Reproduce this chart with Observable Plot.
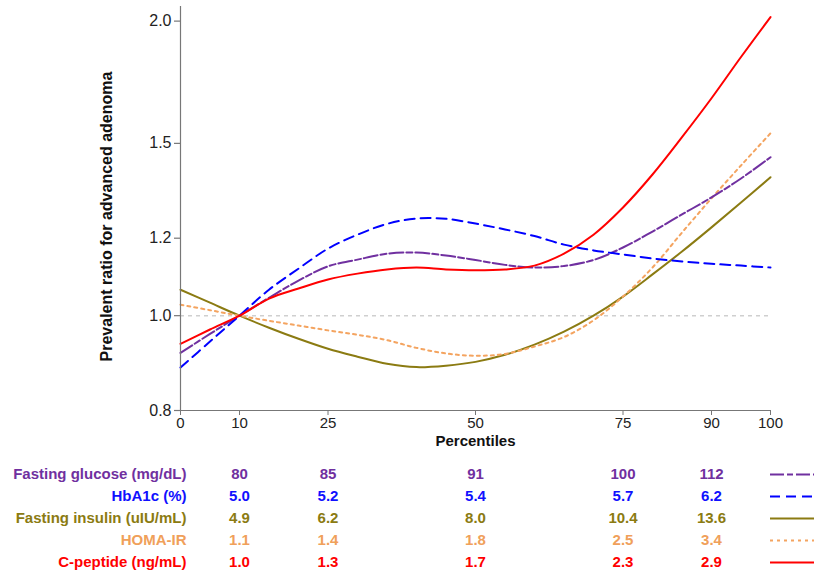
<!DOCTYPE html>
<html>
<head>
<meta charset="utf-8">
<script src="https://cdn.jsdelivr.net/npm/d3@7"></script>
<script src="https://cdn.jsdelivr.net/npm/@observablehq/plot@0.6"></script>
<style>
  body { margin: 0; background: #fff; }
  #chart { width: 814px; font-family: "Liberation Sans", Arial, sans-serif; }
  #chart svg { display: block; background: #fff; }
</style>
</head>
<body>
<div id="chart"></div>
<script>
// Percentile grid along which each spline is evaluated
const percentiles = [0, 5, 10, 15, 20, 25, 30, 35, 40, 45, 50, 55, 60, 65, 70, 75, 80, 85, 90, 95, 100];

// Prevalence ratios for advanced adenoma (reference = 10th percentile)
const fastingGlucose = [0.916, 0.958, 1.000, 1.043, 1.086, 1.123, 1.141, 1.157, 1.160, 1.152, 1.140, 1.127, 1.120, 1.124, 1.140, 1.174, 1.219, 1.269, 1.321, 1.381, 1.452];
const hba1c = [0.885, 0.941, 1.000, 1.063, 1.117, 1.171, 1.210, 1.241, 1.257, 1.256, 1.242, 1.225, 1.206, 1.182, 1.166, 1.155, 1.144, 1.136, 1.130, 1.125, 1.120];
const fastingInsulin = [1.063, 1.031, 1.000, 0.972, 0.947, 0.925, 0.908, 0.893, 0.886, 0.889, 0.897, 0.912, 0.934, 0.963, 1.000, 1.046, 1.102, 1.163, 1.231, 1.305, 1.385];
const homaIR = [1.026, 1.013, 1.000, 0.988, 0.977, 0.966, 0.956, 0.944, 0.927, 0.915, 0.910, 0.914, 0.930, 0.951, 0.989, 1.046, 1.120, 1.216, 1.318, 1.424, 1.536];
const cPeptide = [0.936, 0.968, 1.000, 1.041, 1.066, 1.089, 1.104, 1.115, 1.120, 1.115, 1.113, 1.115, 1.125, 1.157, 1.210, 1.290, 1.394, 1.522, 1.668, 1.838, 2.019];

// Axis ticks
const xTicks = [0, 10, 25, 50, 75, 90, 100];
const yTicks = [0.8, 1.0, 1.2, 1.5, 2.0];

// Measured values at the tabulated percentiles
const tablePercentiles = [10, 25, 50, 75, 90];
const glucoseValues = ["80", "85", "91", "100", "112"];
const hba1cValues = ["5.0", "5.2", "5.4", "5.7", "6.2"];
const insulinValues = ["4.9", "6.2", "8.0", "10.4", "13.6"];
const homaValues = ["1.1", "1.4", "1.8", "2.5", "3.4"];
const cpeptideValues = ["1.0", "1.3", "1.7", "2.3", "2.9"];

const seriesNames = ["Fasting glucose (mg/dL)", "HbA1c (%)", "Fasting insulin (uIU/mL)", "HOMA-IR", "C-peptide (ng/mL)"];

const series = [
  {name: seriesNames[0], ys: fastingGlucose, table: glucoseValues, color: "#7030a0", text: "#7030a0", dash: "14,3,6,3"},
  {name: seriesNames[1], ys: hba1c, table: hba1cValues, color: "#0000ff", text: "#1010ff", dash: "10,6"},
  {name: seriesNames[2], ys: fastingInsulin, table: insulinValues, color: "#8b7b12", text: "#8b7b12", dash: null},
  {name: seriesNames[3], ys: homaIR, table: homaValues, color: "#f4a460", text: "#f0a05a", dash: "3,4"},
  {name: seriesNames[4], ys: cPeptide, table: cpeptideValues, color: "#ff0000", text: "#ff0000", dash: null}
];

const font = "'Liberation Sans', Arial, sans-serif";
const xRange = {marginLeft: 180, marginRight: 44, width: 814};

// Draw order for the curves (bottom to top)
const drawOrder = [2, 3, 0, 1, 4];

const curveMarks = drawOrder.map(i => {
  const s = series[i];
  const rows = percentiles.map((p, k) => ({p, v: s.ys[k]}));
  return Plot.line(rows, {
    x: "p", y: "v", curve: "catmull-rom",
    stroke: s.color, strokeWidth: 2,
    strokeDasharray: s.dash || undefined
  });
});

const main = Plot.plot({
  ...xRange,
  height: 450,
  marginTop: 6,
  marginBottom: 40,
  style: {fontFamily: font, fontSize: "15px", color: "#222", background: "#fff", overflow: "visible"},
  x: {domain: [0, 100]},
  y: {type: "log", domain: [0.8, 2.07], axis: null},
  marks: [
    Plot.ruleY([1], {stroke: "#cfcfcf", strokeWidth: 1.5, strokeDasharray: "4,4"}),
    ...curveMarks,
    // axis lines
    Plot.ruleX([0], {stroke: "#777", strokeWidth: 1.2}),
    Plot.ruleY([0.8], {stroke: "#777", strokeWidth: 1.2}),
    Plot.axisX({ticks: xTicks, tickSize: 5, tickPadding: 2, stroke: "#777", fill: "#222", fontSize: 15, label: null}),
    // y ticks and labels
    Plot.ruleY(yTicks, {y: d => d, x1: 0, x2: 0, insetLeft: -6, stroke: "#777", strokeWidth: 1.2}),
    Plot.text(yTicks, {y: d => d, frameAnchor: "left", dx: -9, textAnchor: "end", text: d => d.toFixed(1), fontSize: 16, fill: "#222"}),
    Plot.text(["Percentiles"], {frameAnchor: "bottom", dy: 35, fontWeight: "bold", fontSize: 15, fill: "#111"}),
    Plot.text(["Prevalent ratio for advanced adenoma"], {frameAnchor: "left", textAnchor: "middle", rotate: -90, dx: -74, dy: 8, fontWeight: "bold", fontSize: 16, fill: "#111"})
  ]
});

// Table of measured values with line-style keys
const cells = [];
series.forEach(s => tablePercentiles.forEach((p, k) => cells.push({name: s.name, p, label: s.table[k], color: s.text})));

const keyMarks = series.map(s => Plot.ruleY([s.name], {
  x1: 100, x2: 108, stroke: s.color, strokeWidth: 2, strokeDasharray: s.dash || undefined
}));

const table = Plot.plot({
  ...xRange,
  height: 126,
  marginTop: 22,
  marginBottom: 13,
  style: {fontFamily: font, background: "#fff", overflow: "visible"},
  x: {domain: [0, 100], axis: null},
  y: {type: "point", domain: seriesNames, axis: null, padding: 0},
  marks: [
    Plot.text(cells, {x: "p", y: "name", text: "label", fill: "color", fontWeight: "bold", fontSize: 15}),
    Plot.text(series, {x: () => 0, y: "name", text: "name", fill: "text", textAnchor: "end", dx: 6, fontWeight: "bold", fontSize: 15}),
    ...keyMarks
  ]
});

const chart = document.getElementById("chart");
chart.appendChild(main);
chart.appendChild(table);
</script>
</body>
</html>
